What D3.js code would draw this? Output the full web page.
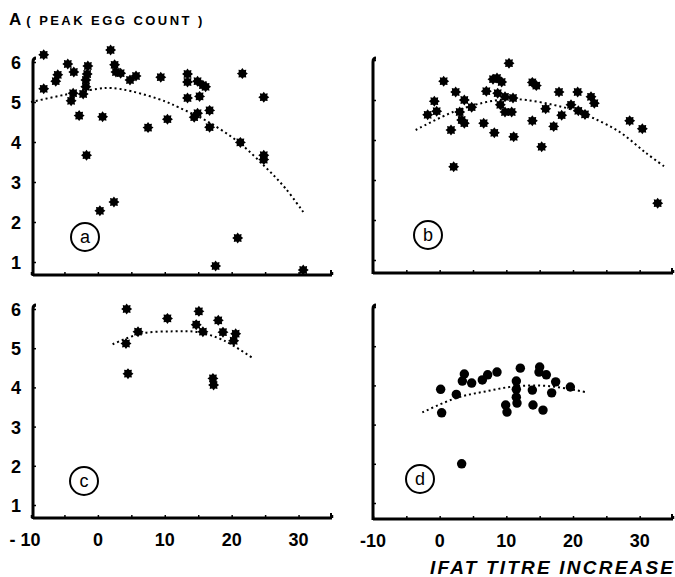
<!DOCTYPE html>
<html><head><meta charset="utf-8">
<script src="https://cdn.jsdelivr.net/npm/d3@7"></script>
<style>
html,body{margin:0;padding:0;background:#fff;}
svg{display:block;}
text{font-family:"Liberation Sans",Arial,sans-serif;fill:#000;}
</style></head>
<body>
<svg id="chart" width="675" height="577"></svg>
<script>
// ---------- data ----------
const xTicks = [-10,-5,0,5,10,15,20,25,30,35];
const xLabelValues = [-10,0,10,20,30];
const xLabelsLeft = ["- 10","0","10","20","30"];
const xLabelsRight = ["-10","0","10","20","30"];
const yTicks = [1,2,3,4,5,6];
const yLabels = ["1","2","3","4","5","6"];
const panelLetters = ["a","b","c","d"];
const titleText = "( PEAK EGG COUNT )";
const xTitle = "IFAT TITRE INCREASE";

const pointsA = [[-8.1,6.18],[-8.1,5.33],[-6.3,5.52],[-6.0,5.68],[-4.5,5.95],[-3.6,5.75],[-4.0,5.03],[-3.7,5.22],[-2.2,5.2],[-1.8,5.55],[-1.5,5.9],[-1.6,5.7],[-1.8,5.38],[-2.8,4.66],[-1.7,3.67],[0.7,4.63],[0.3,2.28],[2.4,2.5],[1.9,6.3],[2.5,5.93],[2.7,5.75],[3.4,5.72],[4.8,5.55],[5.7,5.65],[7.5,4.36],[9.4,5.62],[10.4,4.57],[13.4,5.7],[13.4,5.5],[13.4,5.1],[14.9,5.52],[15.7,5.42],[16.1,5.38],[15.2,5.14],[14.4,4.62],[14.9,4.72],[16.7,4.79],[16.7,4.37],[17.6,0.9],[21.3,3.99],[21.6,5.71],[20.9,1.6],[24.8,5.12],[24.8,3.67],[24.8,3.56],[30.7,0.8]];
const curveA = [[-10,5.0],[-5,5.18],[0,5.33],[2,5.35],[5,5.27],[10,5.02],[12,4.87],[16,4.55],[21,4.0],[25,3.38],[28,2.85],[30.7,2.25]];

const pointsB = [[10.4,5.92],[0.6,5.47],[2.4,5.2],[3.7,5.0],[4.8,4.82],[-0.8,4.97],[-1.8,4.63],[-0.45,4.72],[3.0,4.7],[3.3,4.5],[3.7,4.42],[1.7,4.25],[2.1,3.33],[6.6,4.42],[8.2,4.18],[7.0,5.22],[8.0,5.52],[8.6,5.55],[9.3,5.45],[8.7,5.17],[9.8,5.08],[11.0,5.05],[9.1,4.88],[9.8,4.7],[10.8,4.7],[11.1,4.08],[13.9,5.44],[14.5,5.36],[13.9,4.48],[15.3,3.83],[15.9,4.78],[17.1,4.34],[17.9,5.2],[18.3,4.62],[20.7,5.2],[19.7,4.88],[20.8,4.73],[21.8,4.64],[22.7,5.08],[23.2,4.92],[28.5,4.48],[30.4,4.28],[32.7,2.42]];
const curveB = [[-3.6,4.25],[2,4.7],[6.5,4.93],[10,5.02],[13,5.0],[17,4.88],[20,4.75],[23,4.55],[27,4.2],[31,3.67],[34,3.3]];

const pointsC = [[4.3,6.0],[4.2,5.12],[4.5,4.35],[6.0,5.42],[10.4,5.76],[15.1,5.94],[14.7,5.6],[15.7,5.42],[18.0,5.71],[18.7,5.41],[20.6,5.37],[20.3,5.19],[17.2,4.23],[17.3,4.06]];
const curveC = [[2.2,5.1],[6.4,5.37],[11.3,5.43],[14.9,5.41],[18.8,5.2],[23.3,4.73]];

const pointsD = [[0.15,3.9],[0.3,3.3],[2.5,3.77],[3.7,4.29],[3.4,4.11],[4.8,4.06],[6.4,4.14],[7.2,4.27],[8.6,4.34],[9.9,3.5],[10.1,3.32],[11.5,4.11],[11.5,3.9],[11.5,3.7],[11.6,3.55],[12.1,4.44],[13.9,3.88],[14.0,3.5],[15.0,4.47],[14.9,4.34],[16.0,4.27],[17.4,4.09],[16.8,3.81],[15.5,3.37],[19.6,3.96],[3.3,2.0]];
const curveD = [[-2.6,3.31],[2.5,3.68],[7,3.85],[11.5,3.98],[16.5,3.98],[22.2,3.82]];

// ---------- layout ----------
const svg = d3.select("#chart");
const panels = [
  {pts:pointsA, curve:curveA, letter:panelLetters[0], x0:31, x1:332, yTop:262, yBot:62, axisY:275, yAxisTop:58, axisX:33, yLab:true, xLab:null, marker:"star", lx:85, ly:237},
  {pts:pointsB, curve:curveB, letter:panelLetters[1], x0:373, x1:673, yTop:260, yBot:60, axisY:273, yAxisTop:58, axisX:373, yLab:false, xLab:null, marker:"star", lx:428, ly:235},
  {pts:pointsC, curve:curveC, letter:panelLetters[2], x0:31, x1:332, yTop:505, yBot:309, axisY:518, yAxisTop:305, axisX:33, yLab:true, xLab:xLabelsLeft, marker:"star", lx:84, ly:481},
  {pts:pointsD, curve:curveD, letter:panelLetters[3], x0:373, x1:673, yTop:503, yBot:307, axisY:519, yAxisTop:305, axisX:373, yLab:false, xLab:xLabelsRight, marker:"dot", lx:420, ly:479}
];

// 8-lobed splat symbol
const splat = {
  draw(ctx, size){
    const ro = Math.sqrt(size)/2, ri = ro*0.7;
    for(let i=0;i<16;i++){
      const a = i*Math.PI/8 - Math.PI/2;
      const r = i%2===0 ? ro : ri;
      const px = r*Math.cos(a), py = r*Math.sin(a);
      if(i===0) ctx.moveTo(px,py); else ctx.lineTo(px,py);
    }
    ctx.closePath();
  }
};
const starPath = d3.symbol().type(splat).size(121)();
const dotPath = d3.symbol().type(d3.symbolCircle).size(70)();

panels.forEach((p,pi)=>{
  const x = d3.scaleLinear().domain([-10,35]).range([p.x0,p.x1]);
  const y = d3.scaleLinear().domain([1,6]).range([p.yTop,p.yBot]);
  const g = svg.append("g");

  // y axis line (thick) with small hook at top
  g.append("path")
    .attr("d",`M${p.axisX+3},${p.yAxisTop} Q${p.axisX},${p.yAxisTop} ${p.axisX},${p.yAxisTop+4} L${p.axisX},${p.axisY+1}`)
    .attr("fill","none").attr("stroke","#000").attr("stroke-width",3);
  // x axis line
  g.append("line").attr("x1",p.axisX).attr("x2",p.x1).attr("y1",p.axisY).attr("y2",p.axisY)
    .attr("stroke","#000").attr("stroke-width",3);
  g.append("line").attr("x1",p.x1-1).attr("x2",p.x1-1).attr("y1",p.axisY).attr("y2",p.axisY-5)
    .attr("stroke","#000").attr("stroke-width",2);

  // y ticks
  const ya = d3.axisLeft(y).tickValues(yTicks).tickSize(-3).tickPadding(10)
    .tickFormat((d,i)=> p.yLab ? yLabels[i] : "");
  const yg = g.append("g").attr("transform",`translate(${p.axisX},0)`).call(ya);
  yg.select(".domain").remove();
  yg.selectAll(".tick line").attr("stroke","#000").attr("stroke-width",1.5);
  yg.selectAll(".tick text").attr("font-size",18).attr("font-weight","bold").attr("fill","#000")
    .attr("x",-12).attr("dy","0.36em");

  // x ticks
  const xa = d3.axisBottom(x).tickValues(xTicks).tickSize(-3).tickFormat("");
  const xg = g.append("g").attr("transform",`translate(0,${p.axisY})`).call(xa);
  xg.select(".domain").remove();
  xg.selectAll(".tick line").attr("stroke","#000").attr("stroke-width",1.5);
  if(p.xLab){
    g.selectAll(".xl").data(xLabelValues).enter().append("text")
      .attr("x",(d,i)=> x(d) + (pi===2 && i===0 ? -6 : 0))
      .attr("y",p.axisY+28)
      .attr("text-anchor","middle").attr("font-size",18).attr("font-weight","bold")
      .text((d,i)=>p.xLab[i]);
  }

  // fitted curve
  const line = d3.line().x(d=>x(d[0])).y(d=>y(d[1])).curve(d3.curveCatmullRom);
  g.append("path").datum(p.curve).attr("d",line).attr("fill","none")
    .attr("stroke","#000").attr("stroke-width",2).attr("stroke-dasharray","2,3");

  // points
  g.selectAll(".pt").data(p.pts).enter().append("path")
    .attr("d", p.marker==="star" ? starPath : dotPath)
    .attr("transform",d=>`translate(${x(d[0])},${y(d[1])})`)
    .attr("fill","#000");

  // panel letter
  g.append("circle").attr("cx",p.lx).attr("cy",p.ly).attr("r",14)
    .attr("fill","none").attr("stroke","#000").attr("stroke-width",2);
  g.append("text").attr("x",p.lx).attr("y",p.ly).attr("dy","0.35em")
    .attr("text-anchor","middle").attr("font-size",18).text(p.letter);
});

// titles
const t = svg.append("text").attr("x",9).attr("y",25).attr("font-weight","bold");
t.append("tspan").attr("font-size",17).text("A");
t.append("tspan").attr("font-size",13).attr("dx",5)
  .attr("textLength",176).attr("lengthAdjust","spacing").text(titleText);

svg.append("text").attr("x",430).attr("y",574)
  .attr("font-size",19).attr("font-style","italic").attr("font-weight","bold")
  .attr("textLength",243).attr("lengthAdjust","spacing").text(xTitle);
</script>
</body></html>
